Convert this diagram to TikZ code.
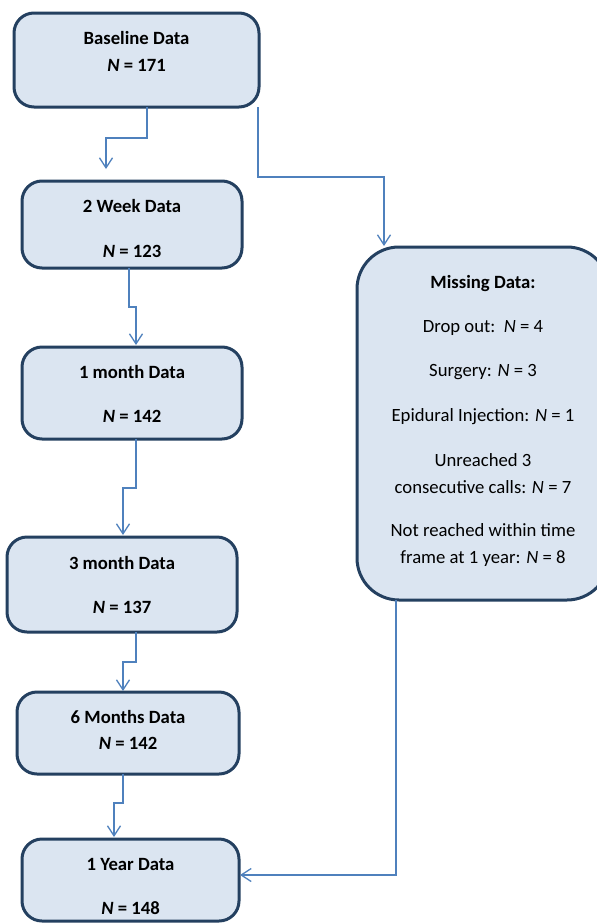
\documentclass[tikz,border=0pt]{standalone}
\usepackage{fontspec}
\setmainfont{Carlito}
\usetikzlibrary{arrows.meta}
\definecolor{boxline}{HTML}{244060}
\definecolor{boxfill}{HTML}{DBE5F1}
\definecolor{connblue}{HTML}{4F81BD}
\tikzset{
  stagebox/.style={draw=boxline, fill=boxfill, line width=3pt, rounded corners=20pt,
    inner sep=0pt, outer sep=0pt},
  missbox/.style={stagebox, rounded corners=42pt},
  btxt/.style={anchor=base, inner sep=0pt, font=\fontsize{18.7}{22}\selectfont\bfseries},
  rtxt/.style={anchor=base, inner sep=0pt, font=\fontsize{18.7}{22}\selectfont},
  conn/.style={draw=connblue, line width=1.3pt, -{Straight Barb[length=10pt,width=13pt,line width=1.3pt]}}
}
\begin{document}
\begin{tikzpicture}[x=1pt,y=1pt]
\clip (0,0) rectangle (597,-924);
\fill[white] (0,0) rectangle (597,-924);
% boxes
\node[stagebox, minimum width=245pt, minimum height=94pt] (b1) at (136.5,-60) {};
\node[stagebox, minimum width=220pt, minimum height=87pt] (b2) at (132,-224.5) {};
\node[stagebox, minimum width=220pt, minimum height=92pt] (b3) at (132,-393) {};
\node[stagebox, minimum width=230pt, minimum height=95pt] (b4) at (122,-584.5) {};
\node[stagebox, minimum width=222pt, minimum height=82pt] (b5) at (128,-733) {};
\node[stagebox, minimum width=217pt, minimum height=82pt] (b6) at (130.5,-880) {};
\node[missbox, minimum width=252pt, minimum height=353pt] (miss) at (483,-423.5) {};
% texts
\node[btxt] (b1a) at (136.5,-44) {Baseline Data};
\node[btxt] (b1b) at (136.5,-71) {\textit{N} = 171};
\node[btxt] (b2a) at (132,-212) {2 Week Data};
\node[btxt] (b2b) at (132,-257) {\textit{N} = 123};
\node[btxt] (b3a) at (132,-378) {1 month Data};
\node[btxt] (b3b) at (132,-422) {\textit{N} = 142};
\node[btxt] (b4a) at (122,-569) {3 month Data};
\node[btxt] (b4b) at (122,-613) {\textit{N} = 137};
\node[btxt] (b5a) at (128,-723) {6 Months Data};
\node[btxt] (b5b) at (128,-749) {\textit{N} = 142};
\node[btxt] (b6a) at (130.5,-870) {1 Year Data};
\node[btxt] (b6b) at (130.5,-914) {\textit{N} = 148};
\node[btxt] (m1) at (483,-288) {Missing Data:};
\node[rtxt] (m2) at (483,-332) {Drop out:\ \ \textit{N} = 4};
\node[rtxt] (m3) at (483,-376) {Surgery: \textit{N} = 3};
\node[rtxt] (m4) at (483,-421) {Epidural Injection: \textit{N} = 1};
\node[rtxt] (m5) at (483,-466) {Unreached 3};
\node[rtxt] (m6) at (483,-493) {consecutive calls: \textit{N} = 7};
\node[rtxt] (m7) at (483,-536) {Not reached within time};
\node[rtxt] (m8) at (483,-563) {frame at 1 year: \textit{N} = 8};
% connectors
\draw[conn] ([xshift=133pt]b1.south west) -- ++(0,-31) -| ([xshift=84pt,yshift=12pt]b2.north west);
\draw[conn] ([xshift=244pt]b1.south west) -- ++(0,-70) -| ([xshift=27pt,yshift=1pt]miss.north west);
\draw[conn] ([xshift=107pt]b2.south west) -- ++(0,-39) -| ([xshift=114pt,yshift=2pt]b3.north west);
\draw[conn] ([xshift=114pt]b3.south west) -- ++(0,-49) -| ([xshift=116pt,yshift=2pt]b4.north west);
\draw[conn] ([xshift=129pt]b4.south west) -- ++(0,-30) -| ([xshift=106pt,yshift=1pt]b5.north west);
\draw[conn] ([xshift=106pt]b5.south west) -- ++(0,-29) -| ([xshift=92pt,yshift=2pt]b6.north west);
\draw[conn] ([xshift=39pt]miss.south west) |- ([xshift=1pt,yshift=-36pt]b6.north east);
\end{tikzpicture}
\end{document}
